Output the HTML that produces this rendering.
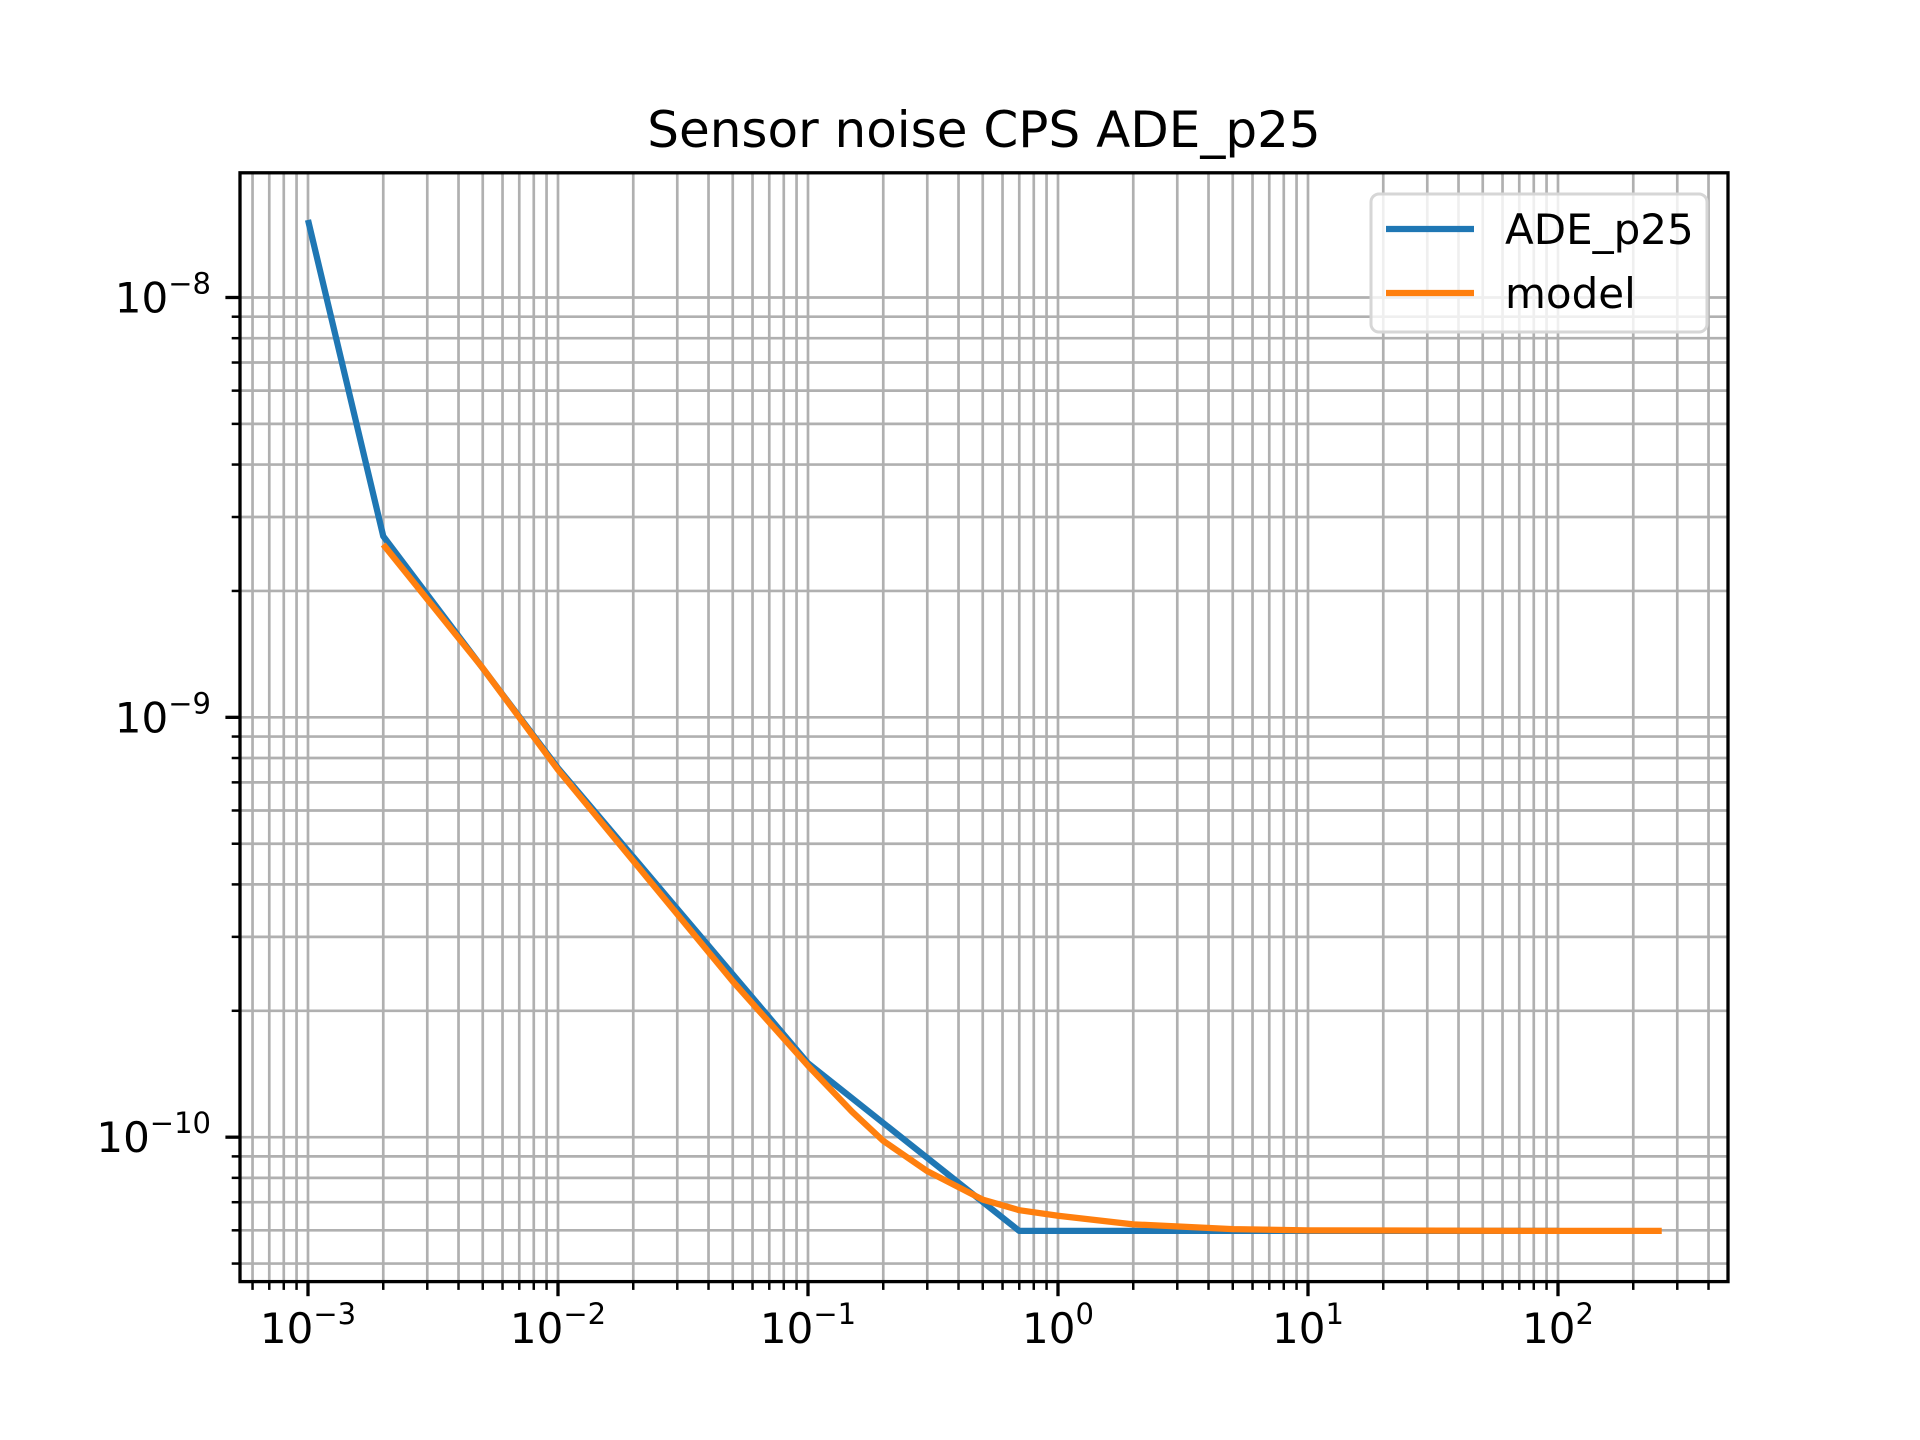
<!DOCTYPE html>
<html><head><meta charset="utf-8"><style>
html,body{margin:0;padding:0;background:#fff;}
svg{display:block;font-family:"DejaVu Sans","Liberation Sans",sans-serif;}
</style></head><body>
<svg id="chart" width="1920" height="1440" viewBox="0 0 1920 1440" xmlns="http://www.w3.org/2000/svg">
<rect x="0" y="0" width="1920" height="1440" fill="#fff"/>
<text x="984" y="147" font-size="50" text-anchor="middle" fill="#000">Sensor noise CPS ADE_p25</text>
<g id="grid"></g>
<g id="series"></g>
<g id="axes"></g>
<g>
<rect x="1371" y="194" width="336" height="138" rx="8" fill="#fff" fill-opacity="0.8" stroke="#d6d6d6" stroke-width="3"/>
<line x1="1386" y1="229" x2="1474" y2="229" stroke="#1f77b4" stroke-width="6.25"/>
<text x="1505" y="244" font-size="42" fill="#000">ADE_p25</text>
<line x1="1386" y1="293" x2="1474" y2="293" stroke="#ff7f0e" stroke-width="6.25"/>
<text x="1505" y="308" font-size="42" fill="#000">model</text>
</g>
</svg>
<script>
const adeX = [0.001, 0.002, 0.01, 0.1, 0.7, 100];
const adeY = [1.53e-8, 2.70e-9, 7.57e-10, 1.50e-10, 5.98e-11, 5.98e-11];
const modelX = [0.002, 0.005, 0.01, 0.02, 0.05, 0.1, 0.15, 0.2, 0.3, 0.5, 0.7, 1, 2, 5, 10, 100, 260];
const modelY = [2.58e-9, 1.31e-9, 7.5e-10, 4.55e-10, 2.35e-10, 1.48e-10, 1.15e-10, 9.8e-11, 8.3e-11, 7.1e-11, 6.7e-11, 6.5e-11, 6.2e-11, 6.04e-11, 6.0e-11, 5.98e-11, 5.98e-11];
const xDecades = [-3, -2, -1, 0, 1, 2];
const xTickLabels = ["\u22123", "\u22122", "\u22121", "0", "1", "2"];
const yDecades = [-8, -9, -10];
const yTickLabels = ["\u22128", "\u22129", "\u221210"];

const L = 240, R = 1728, T = 172.8, B = 1281.6;
const xMin = -3.272, xMax = 2.68, yMax = -7.703, yMin = -10.344;
function sx(v){ return L + (Math.log10(v) - xMin) / (xMax - xMin) * (R - L); }
function sy(v){ return T + (yMax - Math.log10(v)) / (yMax - yMin) * (B - T); }
const NS = "http://www.w3.org/2000/svg";
function mk(tag, parent, attrs){ const e = document.createElementNS(NS, tag); for (const k in attrs) e.setAttribute(k, attrs[k]); parent.appendChild(e); return e; }
const grid = document.getElementById('grid'), axes = document.getElementById('axes'), series = document.getElementById('series');

for (let d = -4; d <= 3; d++) {
  for (let m = 1; m <= 9; m++) {
    const v = m * Math.pow(10, d), x = sx(v);
    if (x < L - 0.5 || x > R + 0.5) continue;
    const g = mk('line', grid, {x1:x, y1:T, x2:x, y2:B, stroke:'#b0b0b0', 'stroke-width':2.7});
    
    
    const t = mk('line', axes, {x1:x, y1:B, x2:x, y2:B + (m === 1 ? 14.6 : 8.3), stroke:'#000', 'stroke-width': m === 1 ? 3.3 : 2.5});
    
    
  }
}
for (let d = -11; d <= -7; d++) {
  for (let m = 1; m <= 9; m++) {
    const v = m * Math.pow(10, d), y = sy(v);
    if (y < T - 0.5 || y > B + 0.5) continue;
    const g = mk('line', grid, {x1:L, y1:y, x2:R, y2:y, stroke:'#b0b0b0', 'stroke-width':2.7});
    
    
    const t = mk('line', axes, {x1:L - (m === 1 ? 14.6 : 8.3), y1:y, x2:L, y2:y, stroke:'#000', 'stroke-width': m === 1 ? 3.3 : 2.5});
    
    
  }
}
function path(xs, ys){ return xs.map((v,i) => (i ? 'L' : 'M') + sx(v).toFixed(2) + ',' + sy(ys[i]).toFixed(2)).join(''); }
const p1 = mk('path', series, {d:path(adeX, adeY), fill:'none', stroke:'#1f77b4', 'stroke-width':6.25, 'stroke-linejoin':'round'});


const p2 = mk('path', series, {d:path(modelX, modelY), fill:'none', stroke:'#ff7f0e', 'stroke-width':6.25, 'stroke-linejoin':'round'});


const sp = mk('rect', axes, {x:L, y:T, width:R - L, height:B - T, fill:'none', stroke:'#000', 'stroke-width':3.3});


xDecades.forEach((d, i) => {
  const x = sx(Math.pow(10, d));
  const t = mk('text', axes, {x:x, y:1343, 'font-size':42, 'text-anchor':'middle', fill:'#000'});
  
  
  t.appendChild(document.createTextNode('10'));
  const s = mk('tspan', t, {'font-size':29, dy:-19});
  s.textContent = xTickLabels[i];
});
yDecades.forEach((d, i) => {
  const y = sy(Math.pow(10, d));
  const t = mk('text', axes, {x:211, y:y + 15, 'font-size':42, 'text-anchor':'end', fill:'#000'});
  
  
  t.appendChild(document.createTextNode('10'));
  const s = mk('tspan', t, {'font-size':29, dy:-19});
  s.textContent = yTickLabels[i];
});
</script>
</body></html>
